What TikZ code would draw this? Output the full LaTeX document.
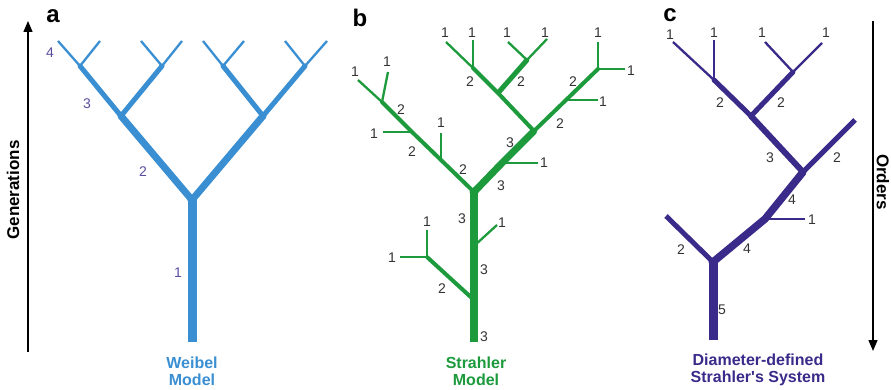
\documentclass[tikz,border=0pt]{standalone}
\usepackage{fontspec}
\setmainfont{Liberation Sans}
\newfontfamily\plainquote{Liberation Sans}[Ligatures=TeXOff]
\usetikzlibrary{arrows.meta}

\definecolor{weibel}{HTML}{3A8FD2}
\definecolor{strahler}{HTML}{1C9A3C}
\definecolor{diam}{HTML}{3A2A8A}
\definecolor{genlab}{HTML}{5A4C9E}
\definecolor{ordlab}{HTML}{333333}

\begin{document}
\begin{tikzpicture}[x=1pt,y=-1pt,
  wA/.style={line width=9pt},
  wB/.style={line width=7pt},
  wC/.style={line width=5pt},
  wD/.style={line width=4pt},
  wE/.style={line width=2.3pt},
  num/.style={font=\fontsize{14}{14}\selectfont, inner sep=0pt},
  panel/.style={font=\fontsize{24}{24}\selectfont\bfseries, inner sep=0pt, anchor=base},
  caption/.style={font=\fontsize{16}{17}\selectfont\bfseries, align=center, inner sep=0pt},
  axislabel/.style={font=\fontsize{17}{17}\selectfont\bfseries, inner sep=0pt},
  axis/.style={line width=1.4pt, black, -{Triangle[length=11pt,width=9pt]}},
]
\useasboundingbox (0,0) rectangle (891,390);

% ---------------- (a) Weibel model ----------------
\coordinate (a0) at (192,342);
\coordinate (a1) at (192,200);
\coordinate (a2L) at (121,116);  \coordinate (a2R) at (263,116);
\coordinate (a3LL) at (80,66);   \coordinate (a3LR) at (162,66);
\coordinate (a3RL) at (223,66);  \coordinate (a3RR) at (305,66);
\coordinate (a4a) at (58,41);  \coordinate (a4b) at (100,41);
\coordinate (a4c) at (141,41); \coordinate (a4d) at (182,41);
\coordinate (a4e) at (203,41); \coordinate (a4f) at (244,41);
\coordinate (a4g) at (285,41); \coordinate (a4h) at (327,41);

\begin{scope}[draw=weibel, fill=weibel]
  \draw[wA] (a0) -- (a1);
  \draw[wB] (a1) -- (a2L);  \draw[wB] (a1) -- (a2R);
  \fill (a1) circle (4.5pt);
  \draw[wC] (a2L) -- (a3LL); \draw[wC] (a2L) -- (a3LR);
  \draw[wC] (a2R) -- (a3RL); \draw[wC] (a2R) -- (a3RR);
  \fill (a2L) circle (3.5pt); \fill (a2R) circle (3.5pt);
  \draw[wE] (a3LL) -- (a4a); \draw[wE] (a3LL) -- (a4b);
  \draw[wE] (a3LR) -- (a4c); \draw[wE] (a3LR) -- (a4d);
  \draw[wE] (a3RL) -- (a4e); \draw[wE] (a3RL) -- (a4f);
  \draw[wE] (a3RR) -- (a4g); \draw[wE] (a3RR) -- (a4h);
  \foreach \j in {a3LL,a3LR,a3RL,a3RR} \fill (\j) circle (2.5pt);
\end{scope}

\begin{scope}[genlab]
  \node[num] (ga4) at (50,53) {4};
  \node[num] (ga3) at (87,104) {3};
  \node[num] (ga2) at (143,172) {2};
  \node[num] (ga1) at (178,273) {1};
\end{scope}
\node[panel] (pa) at (53,23) {a};
\node[caption, text=weibel] (capa) at (192,371) {Weibel\\Model};

% Generations axis
\coordinate (genbot) at (28,352);
\coordinate (gentop) at (28,21);
\draw[axis] (genbot) -- (gentop);
\node[axislabel, rotate=90] (genlab) at (13,190) {Generations};

% ---------------- (b) Strahler model ----------------
\coordinate (b0) at (474,342);
\coordinate (b1) at (474,192);
\coordinate (bT1) at (474,300); \coordinate (bT1J) at (427,257);
\coordinate (bT1u) at (427,230); \coordinate (bT1l) at (400,257);
\coordinate (bT2) at (474,246); \coordinate (bT2r) at (497,225);
% left limb
\coordinate (bL1) at (441,160); \coordinate (bL1u) at (441,133);
\coordinate (bL2) at (412,132); \coordinate (bL2l) at (383,132);
\coordinate (bL3) at (382,102); \coordinate (bL3u) at (388,72);
\coordinate (bL4) at (358,80);
% right limb
\coordinate (bR1) at (502,163); \coordinate (bR1r) at (538,163);
\coordinate (bR2) at (534,131);
\coordinate (bR3) at (566,100); \coordinate (bR3r) at (598,100);
\coordinate (bR4) at (598,69);
\coordinate (bR4u) at (598,42); \coordinate (bR4r) at (625,69);
% middle limb
\coordinate (bM1) at (498,93);
\coordinate (bM2) at (473,68); \coordinate (bM2u) at (473,40);
\coordinate (bM3) at (446,42);
\coordinate (bN) at (527,60);
\coordinate (bNl) at (508,42); \coordinate (bNr) at (547,39);

\begin{scope}[draw=strahler, fill=strahler]
  \draw[wE] (bT1J) -- (bT1u); \draw[wE] (bT1J) -- (bT1l);
  \draw[wD] (bT1) -- (bT1J);
  \draw[wE] (bT2) -- (bT2r);
  \draw[wE] (bL1) -- (bL1u);
  \draw[wE] (bL2) -- (bL2l);
  \draw[wE] (bL3) -- (bL3u);
  \draw[wE] (bL3) -- (bL4);
  \draw[wD] (b1) -- (bL1) -- (bL2) -- (bL3);
  \draw[wE] (bR1) -- (bR1r);
  \draw[wE] (bR3) -- (bR3r);
  \draw[wE] (bR4) -- (bR4u); \draw[wE] (bR4) -- (bR4r);
  \draw[wD] (bR2) -- (bR3) -- (bR4);
  \draw[wE] (bM2) -- (bM2u); \draw[wE] (bM2) -- (bM3);
  \draw[wE] (bN) -- (bNl); \draw[wE] (bN) -- (bNr);
  \draw[wC] (bM1) -- (bN);
  \draw[wD] (bR2) -- (bM1) -- (bM2);
  \draw[wB] (b1) -- (bR1) -- (bR2);
  \draw[line width=8.5pt] (b0) -- (b1);
  \fill (b1) circle (4.5pt);
  \fill (bR2) circle (3.2pt);
  \fill (bT1J) circle (1.8pt);
  \fill (bL3) circle (2pt);
  \fill (bM2) circle (2pt);
  \fill (bN) circle (2.3pt);
  \fill (bR4) circle (2pt);
\end{scope}

\begin{scope}[ordlab]
  \node[num] (sb1) at (355,72) {1};
  \node[num] (sb2) at (387,62) {1};
  \node[num] (sb3) at (401,110) {2};
  \node[num] (sb4) at (374,134) {1};
  \node[num] (sb5) at (412,152) {2};
  \node[num] (sb6) at (441,123) {1};
  \node[num] (sb7) at (463,170) {2};
  \node[num] (sb8) at (445,33) {1};
  \node[num] (sb9) at (472,33) {1};
  \node[num] (sb10) at (507,33) {1};
  \node[num] (sb11) at (545,33) {1};
  \node[num] (sb12) at (470,82) {2};
  \node[num] (sb13) at (521,82) {2};
  \node[num] (sb14) at (598,33) {1};
  \node[num] (sb15) at (631,71) {1};
  \node[num] (sb16) at (573,82) {2};
  \node[num] (sb17) at (603,102) {1};
  \node[num] (sb18) at (560,124) {2};
  \node[num] (sb19) at (510,143) {3};
  \node[num] (sb20) at (544,163) {1};
  \node[num] (sb21) at (501,186) {3};
  \node[num] (sb22) at (462,219) {3};
  \node[num] (sb23) at (502,223) {1};
  \node[num] (sb24) at (427,222) {1};
  \node[num] (sb25) at (392,258) {1};
  \node[num] (sb26) at (484,270) {3};
  \node[num] (sb27) at (442,289) {2};
  \node[num] (sb28) at (484,337) {3};
\end{scope}
\node[panel] (pb) at (360,27) {b};
\node[caption, text=strahler] (capb) at (476,371) {Strahler\\Model};

% ---------------- (c) Diameter-defined Strahler's system ----------------
\coordinate (c0) at (713,340);
\coordinate (c1) at (713,262);
\coordinate (c1L) at (666,216);
\coordinate (c2) at (765,219); \coordinate (c2r) at (805,219);
\coordinate (c3) at (803,172);
\coordinate (c3R) at (855,120);
\coordinate (c4) at (751,116);
\coordinate (c5L) at (714,80);
\coordinate (c5La) at (673,42); \coordinate (c5Lb) at (714,40);
\coordinate (c5R) at (793,72);
\coordinate (c5Ra) at (765,42); \coordinate (c5Rb) at (822,43);

\begin{scope}[draw=diam, fill=diam]
  \draw[wE] (c5L) -- (c5La); \draw[wE] (c5L) -- (c5Lb);
  \draw[wE] (c5R) -- (c5Ra); \draw[wE] (c5R) -- (c5Rb);
  \draw[wC] (c4) -- (c5L); \draw[wC] (c4) -- (c5R);
  \draw[line width=6pt] (c3) -- (c4);
  \draw[wC] (c3) -- (c3R);
  \draw[wE] (c2) -- (c2r);
  \draw[line width=7.5pt] (c1) -- (c2) -- (c3);
  \draw[wC] (c1) -- (c1L);
  \draw[wA] (c0) -- (c1);
  \fill (c1) circle (4.5pt);
  \fill (c3) circle (3.5pt);
  \fill (c4) circle (3pt);
  \fill (c5L) circle (2.4pt);
  \fill (c5R) circle (2.4pt);
\end{scope}

\begin{scope}[ordlab]
  \node[num] (sc1) at (670,35) {1};
  \node[num] (sc2) at (714,33) {1};
  \node[num] (sc3) at (762,33) {1};
  \node[num] (sc4) at (826,33) {1};
  \node[num] (sc5) at (720,103) {2};
  \node[num] (sc6) at (781,103) {2};
  \node[num] (sc7) at (770,158) {3};
  \node[num] (sc8) at (837,158) {2};
  \node[num] (sc9) at (792,200) {4};
  \node[num] (sc10) at (812,220) {1};
  \node[num] (sc11) at (747,249) {4};
  \node[num] (sc12) at (681,250) {2};
  \node[num] (sc13) at (722,310) {5};
\end{scope}
\node[panel] (pc) at (670,22) {c};
\node[caption, text=diam] (capc) at (758,370) {Diameter-defined\\{\plainquote Strahler's} System};

% Orders axis
\coordinate (ordtop) at (873,21);
\coordinate (ordbot) at (873,351);
\draw[axis] (ordtop) -- (ordbot);
\node[axislabel, rotate=-90] (ordlabel) at (883,182) {Orders};

\end{tikzpicture}
\end{document}
